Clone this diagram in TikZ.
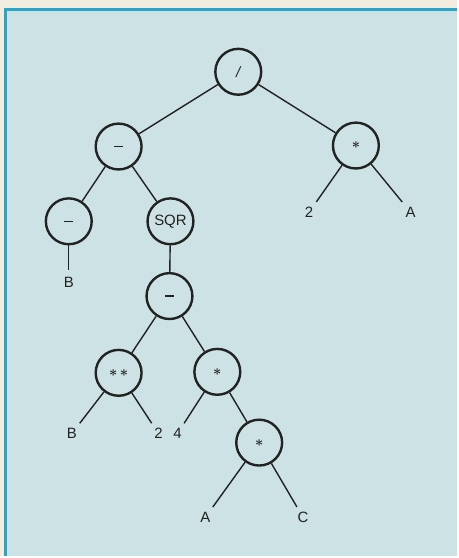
\documentclass[tikz,border=0pt]{standalone}
\usepackage{fontspec}
\setmainfont{Liberation Sans}
\definecolor{paper}{HTML}{F2EEDF}
\definecolor{panel}{HTML}{CCE2E4}
\definecolor{rim}{HTML}{2AA5C8}
\definecolor{ink}{HTML}{222222}
\newcommand{\opminus}{\rule{9pt}{1.5pt}}
\newcommand{\opstar}{{\boldmath$\ast$}}
\begin{document}
\begin{tikzpicture}[x=1pt,y=-1pt,
  op/.style={circle,draw=ink,line width=2.4pt,minimum size=46pt,inner sep=0pt,
             font=\fontsize{15}{17}\selectfont,text=ink},
  leaf/.style={inner sep=5pt,font=\fontsize{15}{17}\selectfont,text=ink},
  link/.style={draw=ink,line width=1.4pt}]
% paper and coloured panel
\fill[paper] (0,0) rectangle (458,558);
\fill[panel] (4,8) rectangle (458,558);
\draw[rim,line width=3.5pt] (5.75,558) -- (5.75,9.75) -- (458,9.75);
\useasboundingbox (0,0) rectangle (458,558);
% operator nodes
\node[op] (root) at (239,72) {\itshape /};
\node[op] (mL)   at (119,147) {\opminus};
\node[op] (mR)   at (357,146) {\opstar};
\node[op] (neg)  at (69,222) {\opminus};
\node[op] (sqr)  at (171,222) {SQR};
\node[op] (sub)  at (170,297) {\opminus};
\node[op] (pow)  at (119,374) {\opstar\,\opstar};
\node[op] (mul)  at (218,373) {\opstar};
\node[op] (mul2) at (260,444) {\opstar};
% operands
\node[leaf] (t2)  at (310,213) {2};
\node[leaf] (tA)  at (412,213) {A};
\node[leaf,inner sep=7pt] (tB) at (69,283) {B};
\node[leaf] (tB2) at (72,435) {B};
\node[leaf] (t22) at (159,435) {2};
\node[leaf] (t4)  at (178,435) {4};
\node[leaf] (tA2) at (206,519) {A};
\node[leaf] (tC)  at (304,519) {C};
% branches
\path[link] (root) -- (mL);
\path[link] (root) -- (mR);
\path[link] (mL) -- (neg);
\path[link] (mL) -- (sqr);
\path[link] (mR) -- (t2);
\path[link] (mR) -- (tA);
\path[link] (neg) -- (tB);
\path[link] (sqr) -- (sub);
\path[link] (sub) -- (pow);
\path[link] (sub) -- (mul);
\path[link] (pow) -- (tB2);
\path[link] (pow) -- (t22);
\path[link] (mul) -- (t4);
\path[link] (mul) -- (mul2);
\path[link] (mul2) -- (tA2);
\path[link] (mul2) -- (tC);
\end{tikzpicture}
\end{document}
